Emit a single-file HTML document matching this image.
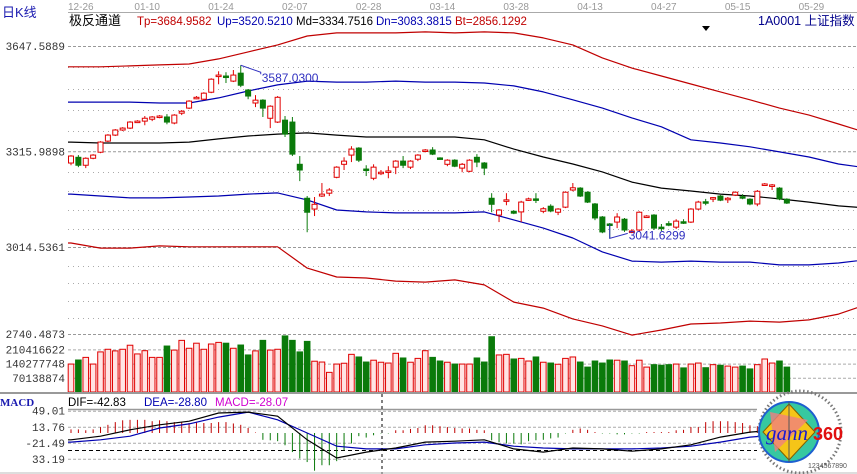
<!DOCTYPE html>
<html><head><meta charset="utf-8">
<style>
html,body{margin:0;padding:0;background:#fff;overflow:hidden;}
svg{display:block;font-family:"Liberation Sans","Noto Sans CJK SC",sans-serif;}
.ax{font-family:"Liberation Mono","Noto Sans CJK SC",monospace;font-size:11px;fill:#333;}
</style></head>
<body>
<svg id="chart" width="857" height="474" viewBox="0 0 857 474" xmlns="http://www.w3.org/2000/svg">
<rect x="0" y="0" width="857" height="474" fill="#fff"/>
<g id="grid"></g>
<text x="2" y="17" font-size="13" fill="#1a1ab0">日K线</text>
<line x1="68" y1="12.5" x2="857" y2="12.5" stroke="#aaa"/>
<g id="dates" font-size="10" fill="#999"></g>
<text x="69" y="25" font-size="13" fill="#000">极反通道</text>
<g font-size="11.5">
<text x="137" y="25" fill="#c00000">Tp=3684.9582</text>
<text x="217" y="25" fill="#0000b0">Up=3520.5210</text>
<text x="296" y="25" fill="#000">Md=3334.7516</text>
<text x="376" y="25" fill="#0000b0">Dn=3083.3815</text>
<text x="455" y="25" fill="#c00000">Bt=2856.1292</text>
</g>
<polygon points="702,26 710,26 706,31" fill="#000"/>
<text x="758" y="25" font-size="12.5" fill="#00008b">1A0001  上证指数</text>
<g id="ylab"></g>
<g id="bands"></g>
<g id="candles"></g>
<g>
<polyline id="annHi" fill="none" stroke="#3030c0" stroke-width="1"/>
<text id="annHiT" font-size="12" fill="#3030c0">3587.0300</text>
<polyline id="annLo" fill="none" stroke="#3030c0" stroke-width="1"/>
<text id="annLoT" font-size="12" fill="#3030c0">3041.6299</text>
</g>
<g id="vol"></g>
<line x1="0" y1="393" x2="857" y2="393" stroke="#999" stroke-width="2"/>
<text x="0" y="406" font-size="11" font-weight="bold" fill="#1a1ab0" font-family="Liberation Serif,serif">MACD</text>
<text x="68" y="406" font-size="11.5" fill="#000">DIF=-42.83</text>
<text x="144" y="406" font-size="11.5" fill="#0000b0">DEA=-28.80</text>
<text x="215" y="406" font-size="11.5" fill="#d000d0">MACD=-28.07</text>
<g id="macd"></g>
<line x1="382" y1="394" x2="382" y2="474" stroke="#000" stroke-dasharray="3,3"/>
<line x1="0" y1="473" x2="857" y2="473" stroke="#bbb"/>
<g>
<circle cx="800" cy="432" r="41" fill="none" stroke="#777" stroke-width="3" stroke-dasharray="1.5,2.5"/>
<circle cx="789" cy="432" r="30" fill="#36c8a0" stroke="#1d5fd0" stroke-width="2"/>
<polygon points="789,404 815,432 789,460 763,432" fill="#f5c518" stroke="#806000"/>
<polygon points="770,412 808,420 775,452" fill="#f08080" opacity="0.8"/>
<line x1="789" y1="402" x2="789" y2="462" stroke="#555"/>
<text x="766" y="440" font-size="21" font-style="italic" fill="#1a1ad0" font-family="Liberation Serif,serif">gann</text>
<text x="813" y="440" font-size="18" font-weight="bold" fill="#e01010">360</text>
<text x="808" y="468" font-size="7" fill="#555">1234567890</text>
</g>
</svg>
<script>
const NS="http://www.w3.org/2000/svg";
// ---- data ----
const dateLabels=["12-26","01-10","01-24","02-07","02-28","03-14","03-28","04-13","04-27","05-15","05-29"];
const dateIndex=[0,9,19,29,39,49,59,69,79,89,99];
const priceTicks=[3647.5889,3315.9898,3014.5361,2740.4873];
const openP=[3279,3297,3272,3294,3313,3348,3367,3383,3389,3408,3411,3417,3424,3424,3405,3436,3452,3483,3480,3502,3553,3553,3537,3562,3509,3468,3477,3420,3408,3414,3408,3275,3168,3134,3175,3184,3234,3275,3304,3326,3260,3231,3247,3251,3266,3285,3266,3291,3317,3320,3295,3275,3288,3263,3253,3297,3279,3168,3115,3160,3127,3125,3163,3166,3127,3143,3124,3140,3194,3200,3187,3150,3109,3087,3093,3102,3062,3068,3109,3115,3077,3088,3077,3094,3093,3134,3157,3167,3175,3165,3178,3173,3165,3150,3210,3207,3200,3165];
const closeP=[3301,3272,3294,3304,3345,3367,3383,3389,3408,3411,3420,3424,3427,3408,3430,3442,3474,3486,3499,3543,3556,3550,3556,3524,3490,3477,3452,3458,3486,3370,3307,3257,3124,3149,3181,3194,3266,3285,3323,3288,3259,3266,3250,3254,3285,3272,3285,3304,3320,3307,3293,3288,3269,3275,3288,3282,3263,3149,3131,3163,3121,3156,3166,3163,3135,3128,3134,3187,3201,3175,3156,3106,3062,3085,3109,3068,3065,3124,3112,3074,3076,3085,3096,3091,3134,3156,3155,3170,3162,3168,3187,3170,3150,3190,3213,3210,3166,3153];
const highP=[3304,3304,3297,3307,3348,3370,3386,3392,3411,3414,3427,3427,3430,3433,3433,3446,3477,3490,3502,3546,3568,3565,3572,3587,3512,3493,3480,3461,3490,3427,3424,3301,3175,3172,3216,3200,3269,3297,3332,3329,3272,3275,3257,3269,3288,3301,3288,3307,3323,3329,3297,3291,3291,3279,3291,3307,3282,3184,3134,3184,3130,3160,3170,3184,3140,3149,3137,3190,3216,3203,3190,3153,3112,3090,3121,3106,3071,3127,3115,3118,3087,3096,3102,3102,3137,3160,3166,3172,3178,3172,3190,3181,3168,3194,3216,3213,3203,3168];
const lowP=[3272,3266,3263,3291,3310,3345,3364,3380,3386,3405,3398,3411,3420,3401,3401,3430,3449,3480,3477,3499,3527,3531,3534,3518,3480,3455,3424,3389,3405,3361,3301,3222,3061,3112,3172,3175,3231,3257,3282,3282,3238,3225,3241,3231,3244,3263,3260,3285,3313,3304,3290,3269,3266,3250,3250,3266,3241,3124,3093,3146,3118,3093,3160,3153,3121,3124,3115,3137,3190,3172,3153,3099,3058,3041.63,3074,3062,3058,3062,3106,3068,3065,3080,3071,3087,3090,3131,3146,3156,3159,3153,3175,3165,3146,3143,3207,3194,3162,3150];
const volume=[138,158,171,138,198,211,203,211,231,188,204,171,171,227,207,255,216,241,211,237,245,241,216,232,183,203,255,207,211,277,255,198,250,152,148,97,138,142,186,173,148,157,147,143,191,168,147,166,204,171,153,147,138,138,138,168,148,273,183,186,163,166,153,173,147,143,137,166,173,148,123,153,143,158,157,153,130,157,123,135,132,135,138,119,138,143,120,135,132,128,123,128,114,135,163,143,153,123];
const volTicks=[210416622,140277748,70138874];
// channel bands sampled every 4 sessions
const tpBand=[3582,3582,3585,3588,3591,3607,3629,3651,3679,3689,3689,3689,3692,3689,3692,3689,3673,3651,3610,3578,3553,3528,3503,3478,3452,3430,3402,3373];
const upBand=[3471,3471,3471,3468,3468,3484,3506,3525,3537,3534,3534,3537,3534,3534,3531,3522,3503,3478,3452,3421,3393,3352,3342,3330,3314,3298,3276,3263];
const mdBand=[3345,3342,3342,3342,3345,3355,3364,3370,3374,3367,3361,3361,3361,3361,3352,3323,3298,3276,3251,3219,3200,3191,3181,3175,3166,3156,3144,3137];
const dnBand=[3181,3175,3169,3169,3172,3175,3181,3185,3163,3131,3125,3122,3122,3122,3125,3100,3074,3043,2999,2970,2967,2970,2967,2967,2958,2958,2964,2975];
const btBand=[3027,3011,3011,3018,3015,3015,3015,3015,2948,2920,2917,2907,2904,2911,2895,2841,2822,2788,2766,2737,2753,2772,2775,2781,2778,2785,2803,2835];
const macdHist=[8,8,6,8,13,18,24,28,29,29,29,26,28,26,24,24,22,24,22,22,24,24,21,18,11,1,-15,-16,-18,-27,-42,-56,-64,-83,-71,-71,-62,-38,-23,-7,-10,-5,-1,-1,6,6,9,11,17,17,15,13,11,10,10,7,6,-16,-20,-23,-23,-25,-18,-16,-15,-12,-10,-1,7,10,7,2,-1,-1,-3,-3,-1,-1,2,2,2,2,6,7,13,13,24,26,26,26,24,22,17,15,10,8,2,-2];
const difLine=[-15,-7,7,18,26,44,46,37,-15,-55,-42,-33,-20,-18,-15,-35,-42,-33,-35,-40,-35,-26,-9,2,7];
const deaLine=[-20,-15,-7,11,20,35,46,29,0,-29,-35,-35,-26,-22,-20,-29,-33,-35,-35,-35,-33,-29,-20,-9,-4];
const macdTicks=[49.01,13.76,-21.49,-56.74];
const macdTickText=["49.01","13.76","-21.49","33.19"];
const hiIdx=23, loIdx=73;

// ---- axes ----
const X=i=>71+i*7.38;
const XB=j=>71+j*4*7.38;
const PY=p=>46+(3647.5889-p)/3.1497;
const VY=v=>392-v/4.939;
const VYraw=v=>392-v/1e6/4.939;
const MY=v=>433-v*0.454;
const RED="#e00000",GREEN="#0a7a0a";
function mk(tag,parent,attrs){const e=document.createElementNS(NS,tag);for(const k in attrs)e.setAttribute(k,attrs[k]);parent.appendChild(e);return e;}

const grid=document.getElementById('grid');
priceTicks.forEach((p,i)=>{
  const l=mk('line',grid,{x1:68,x2:857,y1:PY(p)+0.5,y2:PY(p)+0.5,stroke:'#999','stroke-dasharray':'3,2'});
  
  
  const t=mk('text',document.getElementById('ylab'),{x:65,y:PY(p)+4,'text-anchor':'end',class:'ax'});
  t.textContent=p.toFixed(4);
  
  
});
[67,89,110,131,172,191,210,229,266,283,301,318].forEach(y=>{
  const l=mk('line',grid,{x1:68,x2:857,y1:y+0.5,y2:y+0.5,stroke:'#aaa','stroke-dasharray':'1,4'});
  
  
});
volTicks.forEach(v=>{
  const l=mk('line',grid,{x1:68,x2:857,y1:VYraw(v)+0.5,y2:VYraw(v)+0.5,stroke:'#aaa','stroke-dasharray':'3,2'});
  
  
  const t=mk('text',document.getElementById('ylab'),{x:65,y:VYraw(v)+4,'text-anchor':'end',class:'ax'});
  t.textContent=String(v);
  
  
});
const dg=document.getElementById('dates');
dateLabels.forEach((d,i)=>{
  const t=mk('text',dg,{x:X(dateIndex[i])-3,y:10});
  t.textContent=d;
  
  
});

// bands
const bg=document.getElementById('bands');
[[tpBand,'#c00000','tp-band'],[upBand,'#0000b0','up-band'],[mdBand,'#000','md-band'],[dnBand,'#0000b0','dn-band'],[btBand,'#c00000','bt-band']].forEach(([arr,c,n])=>{
  const pts=arr.map((v,j)=>XB(j).toFixed(1)+','+PY(v).toFixed(1));
  pts.unshift('68,'+PY(arr[0]).toFixed(1));
  const pl=mk('polyline',bg,{points:pts.join(' '),fill:'none',stroke:c,'stroke-width':1.2,'stroke-linejoin':'round'});
  
  
});

// candles + volume
const cg=document.getElementById('candles'),vg=document.getElementById('vol');
openP.forEach((o,i)=>{
  const c=closeP[i],up=c>=o,col=up?RED:GREEN,x=X(i);
  const w=mk('line',cg,{x1:x,x2:x,y1:PY(highP[i]),y2:PY(lowP[i]),stroke:col,'stroke-width':1});
  
  
  const top=PY(Math.max(o,c)),h=Math.max(1.5,PY(Math.min(o,c))-top);
  const b=mk('rect',cg,{x:x-2.5,y:top,width:5,height:h,fill:up?'#fff':GREEN,stroke:col,'stroke-width':1});
  
  
  const vy=VY(volume[i]);
  const vb=mk('rect',vg,{x:x-2.8,y:vy,width:5.6,height:392-vy,fill:up?'#ffe4e4':GREEN,stroke:col,'stroke-width':1});
  
  
});

// annotations
const hx=X(hiIdx),hy=PY(highP[hiIdx]);
document.getElementById('annHi').setAttribute('points',hx+','+hy+' '+(hx+20)+','+(hy+7)+' '+(hx+20)+','+(hy+9));
const ht=document.getElementById('annHiT');ht.setAttribute('x',hx+21);ht.setAttribute('y',hy+17);
const lx=X(loIdx),ly=PY(lowP[loIdx]);
document.getElementById('annLo').setAttribute('points',lx+','+(ly-14)+' '+lx+','+ly+' '+(lx+18)+','+(ly-5));
const lt=document.getElementById('annLoT');lt.setAttribute('x',lx+19);lt.setAttribute('y',ly+1);

// MACD panel
const mg=document.getElementById('macd');
const ml=mk('line',mg,{x1:68,x2:757,y1:409.5,y2:409.5,stroke:'#999','stroke-width':1.5});


macdTicks.forEach((v,i)=>{
  const l=mk('line',mg,{x1:68,x2:757,y1:MY(v)+0.5,y2:MY(v)+0.5,stroke:'#aaa','stroke-dasharray':'3,2'});
  
  
  const t=mk('text',mg,{x:65,y:MY(v)+4,'text-anchor':'end',class:'ax'});
  t.textContent=macdTickText[i];
  
  
});
const rl=mk('line',mg,{x1:68,x2:757,y1:450.5,y2:450.5,stroke:'#000','stroke-dasharray':'4,3'});


macdHist.forEach((v,i)=>{
  const b=mk('line',mg,{x1:X(i),x2:X(i),y1:MY(0),y2:MY(v),stroke:v>=0?'#c00000':GREEN,'stroke-width':1});
  
  
});
[[deaLine,'#0000b0','dea-line'],[difLine,'#000','dif-line']].forEach(([arr,c,n])=>{
  const pts=arr.map((v,j)=>XB(j).toFixed(1)+','+MY(v).toFixed(1));
  pts.unshift('68,'+MY(arr[0]).toFixed(1));
  const pl=mk('polyline',mg,{points:pts.join(' '),fill:'none',stroke:c,'stroke-width':1.2});
  
  
});
</script>
</body></html>
